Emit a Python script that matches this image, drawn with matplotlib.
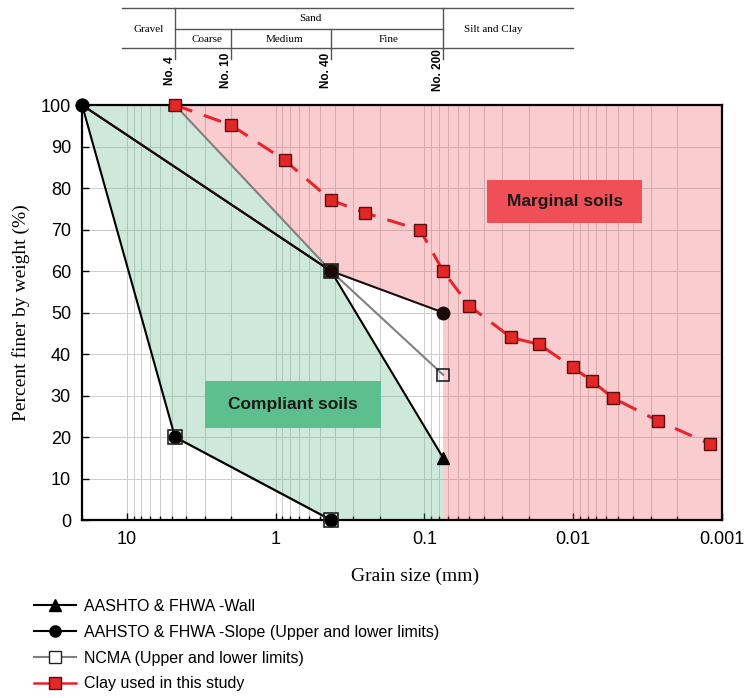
import numpy as np
import matplotlib.pyplot as plt
import matplotlib.transforms as mtransforms
from matplotlib.lines import Line2D
from matplotlib.patches import Rectangle, Polygon
from matplotlib.ticker import LogLocator, FixedLocator, FuncFormatter, NullFormatter

# ---- data (grain size in mm, percent finer in %) ----
wall_size = [20, 0.425, 0.075]
wall_finer = [100, 60, 15]

slope_up_size = [20, 0.425, 0.075]
slope_up_finer = [100, 60, 50]
slope_low_size = [20, 4.75, 0.425]
slope_low_finer = [100, 20, 0]

ncma_up_size = [4.75, 0.425, 0.075]
ncma_up_finer = [100, 60, 35]
ncma_low_size = [4.75, 0.425]
ncma_low_finer = [20, 0]

clay_size = [4.75, 2.0, 0.87, 0.425, 0.25, 0.107, 0.075, 0.05, 0.0262,
             0.0169, 0.0101, 0.0075, 0.0054, 0.0027, 0.0012]
clay_finer = [100, 95.2, 86.7, 77.1, 74.0, 69.9, 60, 51.6, 44.0,
              42.3, 36.8, 33.5, 29.4, 23.9, 18.3]

sieve_size = [4.75, 2.0, 0.425, 0.075]
sieve_name = ['No. 4', 'No. 10', 'No. 40', 'No. 200']

x_min, x_max = 20, 0.001
x_ticks = [10, 1, 0.1, 0.01, 0.001]
y_ticks = list(range(0, 101, 10))

legend_labels = ['AASHTO & FHWA -Wall',
                 'AAHSTO & FHWA -Slope (Upper and lower limits)',
                 'NCMA (Upper and lower limits)',
                 'Clay used in this study']

sans = ['Liberation Sans', 'DejaVu Sans']
serif = ['Liberation Serif', 'DejaVu Serif']

fig = plt.figure(figsize=(7.46, 6.98), dpi=100)
ax = fig.add_axes([0.110, 0.255, 0.858, 0.5945])

# ---- shaded zones ----
green_x = [slope_low_size[0], ncma_up_size[0], ncma_up_size[1], wall_size[2],
           wall_size[2], slope_low_size[2], slope_low_size[1]]
green_y = [100, 100, ncma_up_finer[1], wall_finer[2], 0, 0, slope_low_finer[1]]
pink_x = [ncma_up_size[0], x_max, x_max, slope_up_size[2], slope_up_size[2], slope_up_size[1]]
pink_y = [100, 100, 0, 0, slope_up_finer[2], slope_up_finer[1]]

ax.add_patch(Polygon(np.column_stack([green_x, green_y]), closed=True,
                     facecolor='#5fb98a', alpha=0.3, edgecolor='none', zorder=1))
ax.add_patch(Polygon(np.column_stack([pink_x, pink_y]), closed=True,
                     facecolor='#ee5a60', alpha=0.3, edgecolor='none', zorder=1))

# ---- boxes ----
ax.add_patch(Rectangle((0.192, 0.222), 0.275, 0.113, transform=ax.transAxes,
                       facecolor='#5dbf8d', edgecolor='none', zorder=2))
ax.text(0.3295, 0.2785, 'Compliant soils', transform=ax.transAxes, ha='center',
        va='center', fontsize=12.5, fontweight='bold', family=sans, color='#1a1a1a', zorder=2)
ax.add_patch(Rectangle((0.633, 0.716), 0.242, 0.103, transform=ax.transAxes,
                       facecolor='#ef4f57', edgecolor='none', zorder=2))
ax.text(0.754, 0.7675, 'Marginal soils', transform=ax.transAxes, ha='center',
        va='center', fontsize=12.5, fontweight='bold', family=sans, color='#1a1a1a', zorder=2)

# ---- lines ----
ms = 9
ax.plot(ncma_up_size, ncma_up_finer, color='#808080', lw=1.5, marker='s', ms=ms,
        mfc='none', mec='#222222', mew=1.2, zorder=3)
ax.plot(ncma_low_size, ncma_low_finer, color='#808080', lw=1.5, zorder=3)
ax.plot(wall_size, wall_finer, color='black', lw=1.5, marker='^', ms=ms,
        markevery=[2], zorder=4)
ax.plot(slope_up_size, slope_up_finer, color='#1a0a0a', lw=1.5, marker='o', ms=ms,
        zorder=4, clip_on=False)
ax.plot(slope_low_size, slope_low_finer, color='black', lw=1.5, marker='o', ms=ms,
        zorder=4, clip_on=False)
ax.plot(ncma_low_size, ncma_low_finer, ls='none', marker='s', ms=ms + 1,
        mfc='none', mec='#222222', mew=1.2, zorder=5, clip_on=False)
ax.plot(ncma_up_size[1:2], ncma_up_finer[1:2], ls='none', marker='s', ms=ms + 1,
        mfc='none', mec='#222222', mew=1.2, zorder=5)
ax.plot(clay_size, clay_finer, color='#e8252a', lw=2.2, dashes=(6, 4),
        marker='s', ms=ms, mfc='#e32626', mec='#5a1010', mew=1.0, zorder=6, clip_on=False)

# ---- axes ----
ax.set_xscale('log')
ax.set_xlim(x_min, x_max)
ax.set_ylim(0, 100)
ax.xaxis.set_major_locator(FixedLocator(x_ticks))
ax.xaxis.set_major_formatter(FuncFormatter(lambda v, p: '{:g}'.format(v)))
ax.xaxis.set_minor_locator(LogLocator(base=10, subs=np.arange(2, 10)))
ax.xaxis.set_minor_formatter(NullFormatter())
ax.set_yticks(y_ticks)
ax.grid(True, which='both', axis='x', color='#cccccc', lw=0.7)
ax.grid(True, which='major', axis='y', color='#cccccc', lw=0.7)
ax.set_axisbelow(True)
ax.tick_params(which='both', direction='in', length=5, width=1, pad=8)
ax.tick_params(which='minor', length=3)
ax.tick_params(axis='y', which='both', right=False)
for lab in ax.get_xticklabels() + ax.get_yticklabels():
    lab.set_family(sans)
    lab.set_fontsize(13)
for sp in ax.spines.values():
    sp.set_linewidth(1.6)
    sp.set_color('black')

ax.set_xlabel('Grain size (mm)', family=serif, fontsize=14, labelpad=6)
ax.xaxis.set_label_coords(0.52, -0.115)
ax.set_ylabel('Percent finer by weight (%)', family=serif, fontsize=14, labelpad=8)

# ---- soil classification table on top ----
trans = mtransforms.blended_transform_factory(ax.transData, fig.transFigure)
y_top, y_mid, y_bot = 0.9885, 0.959, 0.931
tcol = '#555555'
fig.add_artist(Line2D([0.164, 0.768], [y_top, y_top], color=tcol, lw=1))
fig.add_artist(Line2D([0.164, 0.768], [y_bot, y_bot], color=tcol, lw=1))
fig.add_artist(Line2D([sieve_size[0], sieve_size[3]], [y_mid, y_mid],
                      transform=trans, color=tcol, lw=1))
for s, n in zip(sieve_size, sieve_name):
    top = y_top if n in ('No. 4', 'No. 200') else y_mid
    fig.add_artist(Line2D([s, s], [top, 0.915], transform=trans, color=tcol, lw=1))
    fig.text(s * 1.08, 0.899, n, transform=trans, rotation=90, ha='center', va='center',
             fontsize=8.5, fontweight='bold', family=sans)

tkw = dict(ha='center', va='center', fontsize=8, family=serif)
fig.text(0.1997, 0.958, 'Gravel', **tkw)
fig.text(0.4155, 0.974, 'Sand', **tkw)
fig.text(0.2775, 0.943, 'Coarse', **tkw)
fig.text(0.382, 0.943, 'Medium', **tkw)
fig.text(0.5214, 0.943, 'Fine', **tkw)
fig.text(0.661, 0.958, 'Silt and Clay', **tkw)

# ---- legend ----
handles = [
    Line2D([], [], color='black', lw=1.5, marker='^', ms=8),
    Line2D([], [], color='black', lw=1.5, marker='o', ms=8),
    Line2D([], [], color='#808080', lw=1.5, marker='s', ms=8, mfc='white', mec='#222222'),
    Line2D([], [], color='#e8252a', lw=1.8, marker='s', ms=8, mfc='#e32626', mec='#5a1010'),
]
fig.legend(handles, legend_labels, loc='upper left', bbox_to_anchor=(0.045, 0.142),
           frameon=False, prop={'family': sans, 'size': 11.5}, handlelength=2.65,
           handletextpad=0.5, labelspacing=0.68, borderpad=0, borderaxespad=0)

fig.savefig('out.png', dpi=100)
